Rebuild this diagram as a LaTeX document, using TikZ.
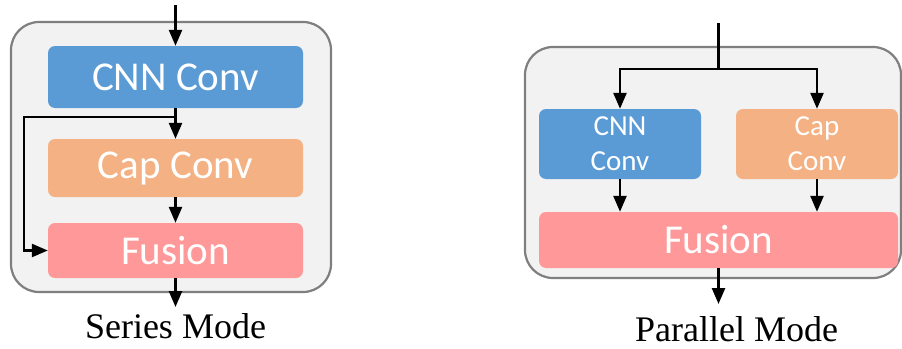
\documentclass[tikz,border=0pt]{standalone}
\usepackage{fontspec}
\setmainfont{Liberation Serif}
\newfontfamily\boxfont{Carlito}
\usetikzlibrary{arrows.meta}
\definecolor{cnnblue}{HTML}{5B9BD5}
\definecolor{caporange}{HTML}{F4B183}
\definecolor{fusepink}{HTML}{FF9999}
\definecolor{panelfill}{HTML}{F2F2F2}
\definecolor{panelline}{HTML}{7F7F7F}
\tikzset{
  panel/.style={draw=panelline, line width=2.2pt, fill=panelfill, rounded corners=28pt, inner sep=0pt},
  blk/.style={rounded corners=7pt, inner sep=0pt, text=white, font=\boxfont\fontsize{41}{45}\selectfont, align=center},
  smallblk/.style={blk, font=\boxfont\fontsize{29}{35}\selectfont},
  arr/.style={line width=2.5pt, -{Triangle[length=16pt,width=13pt]}},
  wire/.style={line width=2.5pt},
  caption/.style={anchor=base, font=\fontsize{36}{42}\selectfont}
}
\begin{document}
\begin{tikzpicture}[x=1pt,y=-1pt]
\useasboundingbox (0,0) rectangle (902,348);

% ---------- series mode ----------
\node[panel, minimum width=320pt, minimum height=270pt] (panelS) at (171,157) {};
\node[blk, fill=cnnblue, minimum width=255pt, minimum height=62pt] (cnnS) at (175.5,77) {CNN Conv};
\node[blk, fill=caporange, minimum width=255pt, minimum height=58pt] (capS) at (175.5,168) {Cap Conv};
\node[blk, fill=fusepink, minimum width=255pt, minimum height=55pt] (fusS) at (175.5,250.5) {Fusion};
\coordinate (inS) at (175.5,5);
\coordinate (brS) at (175.5,117);
\coordinate (outS) at (175.5,307);
\draw[arr] (inS) -- (cnnS.north);
\draw[arr] (cnnS.south) -- (capS.north);
\draw[wire, line join=miter] (brS) -- ++(-151.5,0) -- ++(0,133.5);
\draw[arr] (23,250.5) -- (fusS.west);
\draw[arr] (capS.south) -- (fusS.north);
\draw[arr] (fusS.south) -- (outS);
\node[caption] (capSeries) at (175.5,338) {Series Mode};

% ---------- parallel mode ----------
\node[panel, minimum width=376pt, minimum height=231pt] (panelP) at (713,162.5) {};
\node[smallblk, fill=cnnblue, minimum width=162pt, minimum height=70pt] (cnnP) at (620,144) {CNN\\Conv};
\node[smallblk, fill=caporange, minimum width=162pt, minimum height=70pt] (capP) at (817,144) {Cap\\Conv};
\node[blk, fill=fusepink, minimum width=359pt, minimum height=56pt] (fusP) at (718.5,240) {Fusion};
\coordinate (inP) at (718.5,23);
\coordinate (spP) at (718.5,69);
\coordinate (outP) at (718.5,304);
\draw[wire] (inP) -- (spP);
\draw[arr, line join=miter] (spP) -| (cnnP.north);
\draw[arr, line join=miter] (spP) -| (capP.north);
\draw[arr] (cnnP.south) -- (cnnP.south |- fusP.north);
\draw[arr] (capP.south) -- (capP.south |- fusP.north);
\draw[arr] (fusP.south) -- (outP);
\node[caption] (capParallel) at (736.5,341) {Parallel Mode};
\end{tikzpicture}
\end{document}
